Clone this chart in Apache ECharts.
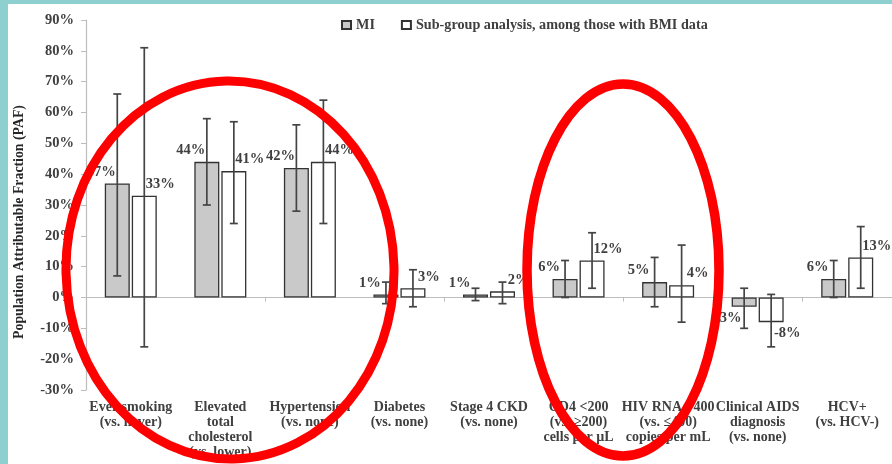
<!DOCTYPE html>
<html>
<head>
<meta charset="utf-8">
<script src="https://cdn.jsdelivr.net/npm/echarts@6/dist/echarts.min.js"></script>
<style>
html,body{margin:0;padding:0;background:#fff;}
#chart{width:892px;height:464px;}
</style>
</head>
<body>
<div id="chart"></div>
<script>
var categories = [
  'Ever smoking\n(vs. never)',
  'Elevated\ntotal\ncholesterol\n(vs. lower)',
  'Hypertension\n(vs. none)',
  'Diabetes\n(vs. none)',
  'Stage 4 CKD\n(vs. none)',
  'CD4 <200\n(vs. ≥200)\ncells per µL',
  'HIV RNA >400\n(vs. ≤400)\ncopies per mL',
  'Clinical AIDS\ndiagnosis\n(vs. none)',
  'HCV+\n(vs. HCV-)'
];
var miValues  = [37, 44, 42, 1, 1, 6, 5, -3, 6];
var miLow     = [7, 30, 28, -2, -1, 0, -3, -10, 0];
var miHigh    = [66, 58, 56, 5, 3, 12, 13, 3, 12];
var subValues = [33, 41, 44, 3, 2, 12, 4, -8, 13];
var subLow    = [-16, 24, 24, -3, -2, 3, -8, -16, 3];
var subHigh   = [81, 57, 64, 9, 5, 21, 17, 1, 23];
var yMin = -30, yMax = 90, yStep = 10;

var FONT = 'Liberation Serif';
var TXT = '#404040';

function barData(vals, dx) {
  return vals.map(function (v) {
    return {
      value: v,
      label: { position: v < 0 ? 'bottom' : 'top', offset: [dx, 0] }
    };
  });
}
function errData(low, high) {
  return low.map(function (l, i) { return [i, l, high[i]]; });
}
function errRender(dx) {
  return function (params, api) {
    var i = api.value(0);
    var top = api.coord([i, api.value(2)]);
    var bot = api.coord([i, api.value(1)]);
    var x = top[0] + dx;
    var cap = 4;
    var st = { stroke: '#444', lineWidth: 1.7 };
    return {
      type: 'group',
      children: [
        { type: 'line', shape: { x1: x, y1: top[1], x2: x, y2: bot[1] }, style: st },
        { type: 'line', shape: { x1: x - cap, y1: top[1], x2: x + cap, y2: top[1] }, style: st },
        { type: 'line', shape: { x1: x - cap, y1: bot[1], x2: x + cap, y2: bot[1] }, style: st }
      ]
    };
  };
}

var chart = echarts.init(document.getElementById('chart'), null, { renderer: 'canvas' });
var labelStyle = { show: true, formatter: '{c}%', fontFamily: FONT, fontWeight: 'bold', fontSize: 14.5, color: TXT, distance: 4 };

chart.setOption({
  animation: false,
  backgroundColor: '#fff',
  textStyle: { fontFamily: FONT },
  legend: {
    left: 336, top: 13,
    itemWidth: 9, itemHeight: 8, itemGap: 26,
    textStyle: { fontFamily: FONT, fontWeight: 'bold', fontSize: 14.2, color: TXT },
    data: [
      { name: 'MI', icon: 'rect' },
      { name: 'Sub-group analysis, among those with BMI data', icon: 'rect' }
    ]
  },
  grid: { left: 86, right: -5, top: 20, bottom: 74 },
  xAxis: [
    {
      type: 'category', data: categories,
      axisLine: { onZero: true, lineStyle: { color: '#bdbdbd', width: 1.2 } },
      axisTick: { show: true, length: 4, lineStyle: { color: '#bdbdbd' } },
      axisLabel: { show: false }
    },
    {
      type: 'category', data: categories, position: 'bottom',
      axisLine: { show: false, onZero: false },
      axisTick: { show: false },
      axisLabel: { show: true, interval: 0, margin: 10, fontFamily: FONT, fontWeight: 'bold', fontSize: 14, lineHeight: 15, color: TXT }
    }
  ],
  yAxis: {
    type: 'value', min: yMin, max: yMax, interval: yStep,
    name: 'Population Attributable Fraction (PAF)',
    nameLocation: 'middle', nameGap: 60, nameRotate: 90,
    nameTextStyle: { fontFamily: FONT, fontWeight: 'bold', fontSize: 13.8, color: '#262626', padding: [0, 34, 0, 0] },
    axisLine: { show: true, lineStyle: { color: '#bdbdbd', width: 1.2 } },
    axisTick: { show: true, length: 5, lineStyle: { color: '#bdbdbd' } },
    splitLine: { show: false },
    axisLabel: { formatter: '{value}%', margin: 12, fontFamily: FONT, fontWeight: 'bold', fontSize: 14.5, color: TXT }
  },
  series: [
    {
      name: 'MI', type: 'bar', xAxisIndex: 0,
      barWidth: 25, barGap: '8%',
      itemStyle: { color: '#c9c9c9', borderColor: '#333', borderWidth: 1.3 },
      label: labelStyle,
      data: barData(miValues, -16)
    },
    {
      name: 'Sub-group analysis, among those with BMI data', type: 'bar', xAxisIndex: 0,
      barWidth: 25, barGap: '8%',
      itemStyle: { color: '#ffffff', borderColor: '#333', borderWidth: 1.3 },
      label: labelStyle,
      data: barData(subValues, 16)
    },
    {
      type: 'custom', xAxisIndex: 0, z: 5,
      renderItem: errRender(-13.5),
      encode: { x: 0, y: [1, 2] },
      data: errData(miLow, miHigh)
    },
    {
      type: 'custom', xAxisIndex: 0, z: 5,
      renderItem: errRender(13.5),
      encode: { x: 0, y: [1, 2] },
      data: errData(subLow, subHigh)
    }
  ],
  graphic: [
    { type: 'rect', left: 0, top: 0, shape: { width: 8, height: 464 }, style: { fill: '#8ecfd0' }, z: 200 },
    { type: 'rect', left: 0, top: 0, shape: { width: 892, height: 4 }, style: { fill: '#8ecfd0' }, z: 200 },
    { type: 'ellipse', shape: { cx: 230, cy: 270, rx: 164, ry: 189 }, originX: 230, originY: 270, rotation: 0.02,
      style: { fill: 'none', stroke: '#ff0000', lineWidth: 9 }, z: 100 },
    { type: 'ellipse', shape: { cx: 623, cy: 270, rx: 96, ry: 186 },
      style: { fill: 'none', stroke: '#ff0000', lineWidth: 9.5 }, z: 100 }
  ]
});
</script>
</body>
</html>
